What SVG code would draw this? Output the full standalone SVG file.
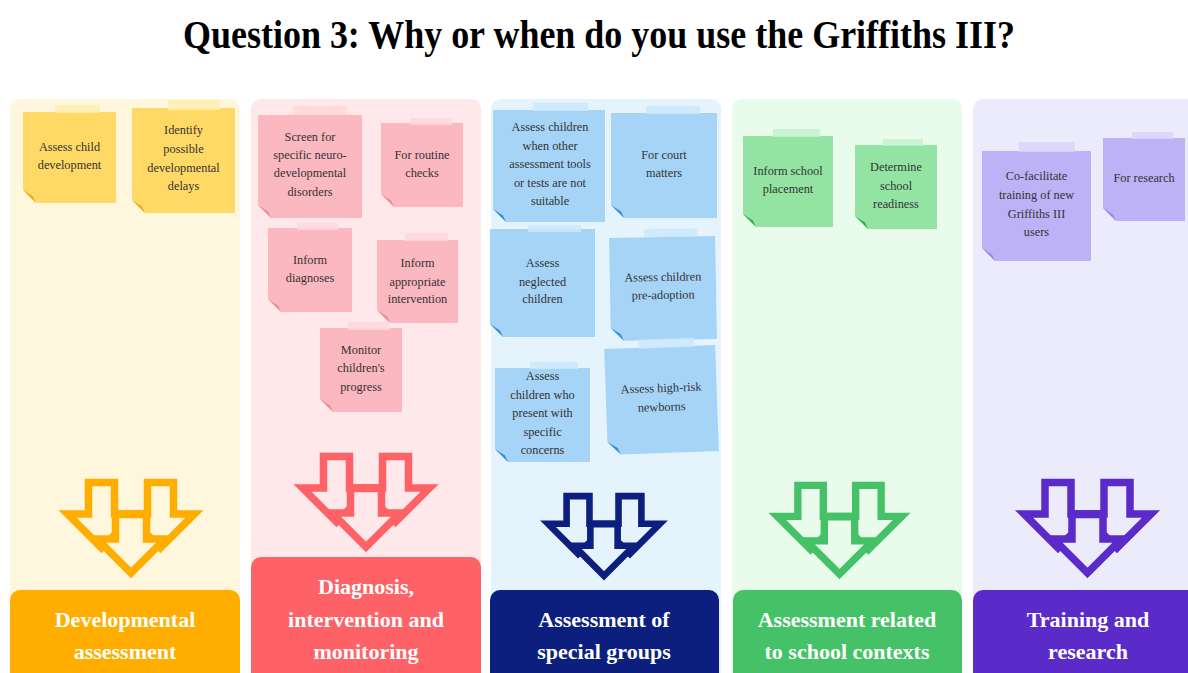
<svg xmlns="http://www.w3.org/2000/svg" xmlns:xlink="http://www.w3.org/1999/xlink" width="1188" height="673" viewBox="0 0 1188 673">
  <style>
    .title { font-family: "Liberation Serif", "Times New Roman", serif; font-weight: bold; font-size: 40px; fill: #000; }
    .nt { font-family: "Liberation Serif", "Times New Roman", serif; font-size: 12.3px; fill: #333; text-anchor: middle; }
    .lbl { font-family: "Liberation Serif", "Times New Roman", serif; font-weight: bold; font-size: 22px; fill: #fff; text-anchor: middle; }
    .tape { opacity: 0.85; }
    .c1 .body { fill: #FFD966; } .c1 .fold { fill: #F5A515; } .c1 .tape { fill: #FFEEB0; }
    .c2 .body { fill: #FCB8C0; } .c2 .fold { fill: #F0879A; } .c2 .tape { fill: #FFD7DC; }
    .c3 .body { fill: #A6D4F7; } .c3 .fold { fill: #2F8DE4; } .c3 .tape { fill: #CBE7FB; }
    .c4 .body { fill: #93E4A3; } .c4 .fold { fill: #2DB356; } .c4 .tape { fill: #C3F1CC; }
    .c5 .body { fill: #BDB2F6; } .c5 .fold { fill: #9C85F0; } .c5 .tape { fill: #DAD4FA; }
  </style>
  <defs>
    <!-- three overlapping outlined down arrows; stroke and fill come from the <use> -->
    <g id="arrows" stroke-width="7.5" stroke-linejoin="miter">
      <path d="M-42.5,3.5 H-16.5 V35 H4.5 L-29.5,69 L-63.5,35 H-42.5 Z"/>
      <path d="M16.5,3.5 H42.5 V35 H63.5 L29.5,69 L-4.5,35 H16.5 Z"/>
      <path d="M-15.5,35.5 H15.5 V60 H34 L0,94 L-34,60 H-15.5 Z"/>
    </g>
  </defs>

  <rect width="1188" height="673" fill="#fff"/>
  <text class="title" x="599" y="48" text-anchor="middle" textLength="832" lengthAdjust="spacingAndGlyphs">Question 3: Why or when do you use the Griffiths III?</text>

  <!-- column panels -->
  <g id="panels">
    <rect x="10" y="99" width="230" height="590" rx="10" fill="#FFF7DD"/>
    <rect x="251" y="99" width="230" height="590" rx="10" fill="#FFE8EA"/>
    <rect x="491" y="99" width="230" height="590" rx="10" fill="#E5F3FD"/>
    <rect x="732" y="99" width="230" height="590" rx="10" fill="#E9FBEB"/>
    <rect x="973" y="99" width="230" height="590" rx="10" fill="#ECEBFC"/>
  </g>

  <!-- column 1 notes -->
  <g class="c1">
    <g id="n-assess-child">
      <polygon class="body" points="23,112 116,112 116,203 36,203 23,190"/>
      <polygon class="fold" points="23,190 33,196.5 36,203"/>
      <rect class="tape" x="55" y="105" width="45" height="8"/>
      <text class="nt" x="69.5" y="151">Assess child</text>
      <text class="nt" x="69.5" y="169">development</text>
    </g>
    <g id="n-identify-delays">
      <polygon class="body" points="132,108 235,108 235,213 145,213 132,200"/>
      <polygon class="fold" points="132,200 142,206.5 145,213"/>
      <rect class="tape" x="168" y="100" width="52" height="10"/>
      <text class="nt" x="183.5" y="134">Identify</text>
      <text class="nt" x="183.5" y="153">possible</text>
      <text class="nt" x="183.5" y="172">developmental</text>
      <text class="nt" x="183.5" y="190">delays</text>
    </g>
  </g>

  <!-- column 2 notes -->
  <g class="c2">
    <g id="n-screen">
      <polygon class="body" points="258,115 362,115 362,218 271,218 258,205"/>
      <polygon class="fold" points="258,205 268,211.5 271,218"/>
      <rect class="tape" x="293" y="106" width="54" height="9"/>
      <text class="nt" x="310" y="141">Screen for</text>
      <text class="nt" x="310" y="159">specific neuro-</text>
      <text class="nt" x="310" y="177">developmental</text>
      <text class="nt" x="310" y="196">disorders</text>
    </g>
    <g id="n-routine">
      <polygon class="body" points="381,123 463,123 463,207 394,207 381,194"/>
      <polygon class="fold" points="381,194 391,200.5 394,207"/>
      <rect class="tape" x="410" y="118" width="42" height="7"/>
      <text class="nt" x="422" y="159">For routine</text>
      <text class="nt" x="422" y="177">checks</text>
    </g>
    <g id="n-diagnoses">
      <polygon class="body" points="268,228 352,228 352,312 281,312 268,299"/>
      <polygon class="fold" points="268,299 278,305.5 281,312"/>
      <rect class="tape" x="297" y="223" width="41" height="7"/>
      <text class="nt" x="310" y="264">Inform</text>
      <text class="nt" x="310" y="282">diagnoses</text>
    </g>
    <g id="n-intervention">
      <polygon class="body" points="377,240 458,240 458,323 390,323 377,310"/>
      <polygon class="fold" points="377,310 387,316.5 390,323"/>
      <rect class="tape" x="405" y="233" width="43" height="8"/>
      <text class="nt" x="417.5" y="267">Inform</text>
      <text class="nt" x="417.5" y="286">appropriate</text>
      <text class="nt" x="417.5" y="303">intervention</text>
    </g>
    <g id="n-monitor">
      <polygon class="body" points="320,328 402,328 402,412 333,412 320,399"/>
      <polygon class="fold" points="320,399 330,405.5 333,412"/>
      <rect class="tape" x="348" y="322" width="42" height="8"/>
      <text class="nt" x="361" y="354">Monitor</text>
      <text class="nt" x="361" y="372">children's</text>
      <text class="nt" x="361" y="391">progress</text>
    </g>
  </g>

  <!-- column 3 notes -->
  <g class="c3">
    <g id="n-other-tools">
      <polygon class="body" points="493,110 605,110 605,222 506,222 493,209"/>
      <polygon class="fold" points="493,209 503,215.5 506,222"/>
      <rect class="tape" x="533" y="103" width="55" height="8"/>
      <text class="nt" x="550" y="131">Assess children</text>
      <text class="nt" x="550" y="150">when other</text>
      <text class="nt" x="550" y="168">assessment tools</text>
      <text class="nt" x="550" y="187">or tests are not</text>
      <text class="nt" x="550" y="205">suitable</text>
    </g>
    <g id="n-court">
      <polygon class="body" points="611,113 717,113 717,218 624,218 611,205"/>
      <polygon class="fold" points="611,205 621,211.5 624,218"/>
      <rect class="tape" x="646" y="106" width="54" height="8"/>
      <text class="nt" x="664" y="159">For court</text>
      <text class="nt" x="664" y="177">matters</text>
    </g>
    <g id="n-neglected">
      <polygon class="body" points="490,229 595,229 595,337 503,337 490,324"/>
      <polygon class="fold" points="490,324 500,330.5 503,337"/>
      <rect class="tape" x="528" y="225" width="53" height="7"/>
      <text class="nt" x="542.5" y="267">Assess</text>
      <text class="nt" x="542.5" y="286">neglected</text>
      <text class="nt" x="542.5" y="303">children</text>
    </g>
    <g id="n-pre-adoption" transform="rotate(-1 663 288)">
      <polygon class="body" points="610,237 716,237 716,340 623,340 610,327"/>
      <polygon class="fold" points="610,327 620,333.5 623,340"/>
      <rect class="tape" x="645" y="229" width="53" height="8"/>
      <text class="nt" x="663" y="281">Assess children</text>
      <text class="nt" x="663" y="299">pre-adoption</text>
    </g>
    <g id="n-concerns">
      <polygon class="body" points="495,368 590,368 590,462 508,462 495,449"/>
      <polygon class="fold" points="495,449 505,455.5 508,462"/>
      <rect class="tape" x="530" y="362" width="48" height="7"/>
      <text class="nt" x="542.5" y="380">Assess</text>
      <text class="nt" x="542.5" y="399">children who</text>
      <text class="nt" x="542.5" y="417">present with</text>
      <text class="nt" x="542.5" y="436">specific</text>
      <text class="nt" x="542.5" y="454">concerns</text>
    </g>
    <g id="n-newborns" transform="rotate(-2 661.5 400)">
      <polygon class="body" points="606,347 717,347 717,453 619,453 606,440"/>
      <polygon class="fold" points="606,440 616,446.5 619,453"/>
      <rect class="tape" x="641" y="339" width="55" height="9"/>
      <text class="nt" x="661.5" y="392">Assess high-risk</text>
      <text class="nt" x="661.5" y="411">newborns</text>
    </g>
  </g>

  <!-- column 4 notes -->
  <g class="c4">
    <g id="n-placement">
      <polygon class="body" points="743,136 833,136 833,227 756,227 743,214"/>
      <polygon class="fold" points="743,214 753,220.5 756,227"/>
      <rect class="tape" x="773" y="129" width="47" height="8"/>
      <text class="nt" x="788" y="175">Inform school</text>
      <text class="nt" x="788" y="193">placement</text>
    </g>
    <g id="n-readiness">
      <polygon class="body" points="855,145 937,145 937,229 868,229 855,216"/>
      <polygon class="fold" points="855,216 865,222.5 868,229"/>
      <rect class="tape" x="883" y="139" width="40" height="7"/>
      <text class="nt" x="896" y="171">Determine</text>
      <text class="nt" x="896" y="190">school</text>
      <text class="nt" x="896" y="208">readiness</text>
    </g>
  </g>

  <!-- column 5 notes -->
  <g class="c5">
    <g id="n-training">
      <polygon class="body" points="982,151 1091,151 1091,261 995,261 982,248"/>
      <polygon class="fold" points="982,248 992,254.5 995,261"/>
      <rect class="tape" x="1019" y="142" width="56" height="10"/>
      <text class="nt" x="1036.5" y="180">Co-facilitate</text>
      <text class="nt" x="1036.5" y="199">training of new</text>
      <text class="nt" x="1036.5" y="218">Griffiths III</text>
      <text class="nt" x="1036.5" y="236">users</text>
    </g>
    <g id="n-research">
      <polygon class="body" points="1103,138 1185,138 1185,221 1116,221 1103,208"/>
      <polygon class="fold" points="1103,208 1113,214.5 1116,221"/>
      <rect class="tape" x="1132" y="132" width="41" height="7"/>
      <text class="nt" x="1144" y="182">For research</text>
    </g>
  </g>

  <!-- arrow icons leading to each category -->
  <g id="connectors">
    <use href="#arrows" xlink:href="#arrows" transform="translate(131,479)" stroke="#FFAE00" fill="#FFF7DD"/>
    <use href="#arrows" xlink:href="#arrows" transform="translate(366,453)" stroke="#FF6266" fill="#FFE8EA"/>
    <use href="#arrows" xlink:href="#arrows" transform="translate(604,493) scale(0.88)" stroke="#0C1F7E" fill="#E5F3FD"/>
    <use href="#arrows" xlink:href="#arrows" transform="translate(839.5,482) scale(0.98)" stroke="#45C267" fill="#E9FBEB"/>
    <use href="#arrows" xlink:href="#arrows" transform="translate(1087.5,479)" stroke="#5A2BC8" fill="#ECEBFC"/>
  </g>

  <!-- category boxes -->
  <g id="cat-developmental">
    <rect x="10" y="590" width="230" height="100" rx="10" fill="#FFAE00"/>
    <text class="lbl" x="125" y="627">Developmental</text>
    <text class="lbl" x="125" y="659">assessment</text>
  </g>
  <g id="cat-diagnosis">
    <rect x="251" y="557" width="230" height="130" rx="10" fill="#FF6266"/>
    <text class="lbl" x="366" y="594">Diagnosis,</text>
    <text class="lbl" x="366" y="627">intervention and</text>
    <text class="lbl" x="366" y="659">monitoring</text>
  </g>
  <g id="cat-special">
    <rect x="490" y="590" width="229" height="100" rx="10" fill="#0C1F7E"/>
    <text class="lbl" x="604" y="627">Assessment of</text>
    <text class="lbl" x="604" y="659">special groups</text>
  </g>
  <g id="cat-school">
    <rect x="733" y="590" width="229" height="100" rx="10" fill="#45C267"/>
    <text class="lbl" x="847" y="627">Assessment related</text>
    <text class="lbl" x="847" y="659">to school contexts</text>
  </g>
  <g id="cat-training">
    <rect x="973" y="590" width="230" height="100" rx="10" fill="#5A2BC8"/>
    <text class="lbl" x="1088" y="627">Training and</text>
    <text class="lbl" x="1088" y="659">research</text>
  </g>
</svg>
